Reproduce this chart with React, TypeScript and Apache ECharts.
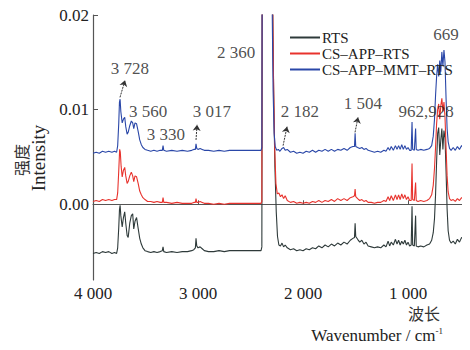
import React, { useEffect, useRef } from "react";
import * as echarts from "echarts";

// wavenumber (cm^-1), intensity
const rtsData: [number, number][] = [
  [4000,-0.0052],[3970,-0.0051],[3940,-0.0052],[3910,-0.0050],[3880,-0.0051],[3850,-0.0050],[3820,-0.0052],[3795,-0.0051],[3775,-0.0052],[3765,-0.0046],[3755,-0.0025],[3748,-0.0006],[3742,-0.0001],[3735,-0.0012],[3722,-0.0024],[3710,-0.0014],[3698,-0.0008],[3688,-0.0020],[3675,-0.0033],[3665,-0.0035],[3650,-0.0020],[3635,-0.0012],[3622,-0.0010],[3612,-0.0026],[3600,-0.0018],[3585,-0.0014],[3572,-0.0024],[3555,-0.0036],[3540,-0.0042],[3525,-0.0046],[3505,-0.0049],[3480,-0.0050],[3450,-0.0051],[3420,-0.0050],[3390,-0.0051],[3360,-0.0050],[3340,-0.0049],[3333,-0.0045],[3326,-0.0050],[3300,-0.0051],[3250,-0.0050],[3200,-0.0051],[3150,-0.0050],[3100,-0.0050],[3060,-0.0049],[3040,-0.0048],[3025,-0.0046],[3019,-0.0036],[3012,-0.0044],[3000,-0.0046],[2980,-0.0045],[2960,-0.0047],[2940,-0.0049],[2900,-0.0050],[2850,-0.0050],[2800,-0.0049],[2750,-0.0050],[2700,-0.0049],[2650,-0.0049],[2600,-0.0049],[2500,-0.0049],[2400,-0.0049],[2392,-0.0045],[2388,0.03],[2300,0.03],[2290,0.022],[2280,0.012],[2268,0.004],[2255,-0.0008],[2243,-0.0034],[2230,-0.0043],[2215,-0.0044],[2200,-0.0041],[2185,-0.0045],[2170,-0.0043],[2150,-0.0046],[2120,-0.0048],[2090,-0.0047],[2060,-0.0049],[2030,-0.0048],[2000,-0.0049],[1970,-0.0047],[1940,-0.0048],[1910,-0.0046],[1880,-0.0047],[1850,-0.0044],[1820,-0.0046],[1790,-0.0043],[1760,-0.0045],[1730,-0.0042],[1700,-0.0044],[1670,-0.0041],[1640,-0.0043],[1610,-0.0040],[1580,-0.0042],[1550,-0.0038],[1525,-0.0036],[1510,-0.0035],[1504,-0.0020],[1498,-0.0034],[1480,-0.0037],[1460,-0.0040],[1440,-0.0038],[1420,-0.0042],[1400,-0.0040],[1380,-0.0044],[1350,-0.0045],[1320,-0.0046],[1290,-0.0045],[1260,-0.0046],[1230,-0.0043],[1210,-0.0045],[1190,-0.0039],[1175,-0.0044],[1160,-0.0040],[1140,-0.0043],[1120,-0.0037],[1105,-0.0042],[1090,-0.0038],[1075,-0.0043],[1060,-0.0039],[1045,-0.0042],[1030,-0.0038],[1015,-0.0043],[1000,-0.0040],[985,-0.0044],[970,-0.0043],[962,-0.0002],[956,-0.0043],[940,-0.0044],[928,-0.0012],[922,-0.0044],[905,-0.0045],[880,-0.0044],[850,-0.0045],[820,-0.0043],[795,-0.0042],[775,-0.0038],[760,-0.0030],[748,-0.0015],[738,0.0010],[728,0.0045],[718,0.0075],[708,0.0081],[698,0.0052],[688,0.0068],[678,0.0080],[668,0.0058],[658,0.0078],[648,0.0070],[638,0.0035],[628,-0.0005],[618,-0.0028],[605,-0.0038],[590,-0.0041],[570,-0.0039],[550,-0.0042],[530,-0.0037],[510,-0.0040],[490,-0.0035],[470,-0.0037],[450,-0.0032],[430,-0.0030],[410,-0.0027]
];

const csAppRtsData: [number, number][] = [
  [4000,0.0003],[3970,0.0004],[3940,0.0003],[3910,0.0005],[3880,0.0004],[3850,0.0005],[3820,0.0004],[3795,0.0005],[3775,0.0005],[3765,0.0012],[3755,0.0035],[3746,0.0058],[3740,0.0055],[3732,0.0040],[3722,0.0029],[3710,0.0036],[3698,0.0039],[3688,0.0030],[3675,0.0022],[3665,0.0024],[3650,0.0030],[3635,0.0034],[3622,0.0030],[3612,0.0024],[3600,0.0030],[3585,0.0029],[3570,0.0022],[3555,0.0014],[3540,0.0010],[3525,0.0007],[3505,0.0005],[3480,0.0003],[3450,0.0003],[3420,0.0002],[3390,0.0003],[3360,0.0002],[3340,0.0002],[3333,0.0007],[3326,0.0002],[3300,0.0002],[3250,0.0001],[3200,0.0002],[3150,0.0001],[3100,0.0001],[3060,0.0001],[3040,0.0002],[3025,0.0002],[3019,0.0006],[3012,0.0002],[3000,0.0002],[2980,0.0003],[2960,0.0002],[2940,0.0001],[2900,0.0001],[2850,0.0000],[2800,0.0001],[2750,0.0000],[2700,0.0001],[2650,0.0001],[2400,0.0001],[2392,0.0003],[2388,0.03],[2300,0.03],[2292,0.024],[2282,0.014],[2270,0.006],[2258,0.0022],[2245,0.0011],[2230,0.0012],[2215,0.0008],[2200,0.0010],[2185,0.0006],[2170,0.0009],[2150,0.0004],[2120,0.0002],[2090,0.0003],[2060,0.0001],[2030,0.0002],[2000,0.0001],[1970,0.0002],[1940,0.0001],[1910,0.0003],[1880,0.0002],[1850,0.0004],[1820,0.0002],[1790,0.0004],[1760,0.0003],[1730,0.0005],[1700,0.0003],[1670,0.0006],[1640,0.0004],[1610,0.0006],[1580,0.0004],[1550,0.0007],[1525,0.0008],[1510,0.0009],[1504,0.0016],[1498,0.0008],[1480,0.0006],[1460,0.0004],[1440,0.0005],[1420,0.0003],[1400,0.0004],[1380,0.0002],[1350,0.0002],[1320,0.0001],[1290,0.0002],[1260,0.0002],[1230,0.0004],[1210,0.0003],[1190,0.0008],[1175,0.0004],[1160,0.0009],[1140,0.0004],[1120,0.0010],[1105,0.0005],[1090,0.0010],[1075,0.0005],[1060,0.0011],[1045,0.0006],[1030,0.0010],[1015,0.0005],[1000,0.0008],[985,0.0004],[970,0.0004],[962,0.0043],[956,0.0005],[940,0.0004],[928,0.0023],[922,0.0004],[905,0.0003],[880,0.0004],[850,0.0003],[820,0.0004],[795,0.0006],[775,0.0010],[760,0.0020],[748,0.0038],[738,0.0060],[728,0.0085],[718,0.0100],[708,0.0106],[698,0.0090],[688,0.0104],[678,0.0112],[668,0.0098],[658,0.0108],[648,0.0092],[638,0.0060],[628,0.0030],[618,0.0013],[605,0.0006],[590,0.0004],[570,0.0005],[550,0.0003],[530,0.0006],[510,0.0004],[490,0.0007],[470,0.0006],[450,0.0009],[430,0.0011],[410,0.0013]
];

const csAppMmtRtsData: [number, number][] = [
  [4000,0.0054],[3970,0.0055],[3940,0.0054],[3910,0.0056],[3880,0.0055],[3850,0.0056],[3820,0.0055],[3795,0.0056],[3775,0.0055],[3765,0.0062],[3755,0.0085],[3748,0.0108],[3742,0.0111],[3735,0.0098],[3722,0.0086],[3710,0.0090],[3698,0.0092],[3688,0.0082],[3675,0.0074],[3665,0.0076],[3650,0.0083],[3635,0.0088],[3622,0.0086],[3612,0.0080],[3600,0.0086],[3585,0.0085],[3570,0.0077],[3555,0.0068],[3540,0.0063],[3525,0.0060],[3505,0.0058],[3480,0.0057],[3450,0.0056],[3420,0.0057],[3390,0.0056],[3360,0.0057],[3340,0.0057],[3333,0.0062],[3326,0.0057],[3300,0.0056],[3250,0.0057],[3200,0.0056],[3150,0.0057],[3100,0.0056],[3060,0.0057],[3040,0.0058],[3025,0.0058],[3019,0.0064],[3012,0.0059],[3000,0.0058],[2980,0.0059],[2960,0.0058],[2940,0.0057],[2900,0.0057],[2850,0.0056],[2800,0.0057],[2750,0.0056],[2700,0.0057],[2650,0.0057],[2400,0.0057],[2392,0.0060],[2388,0.03],[2302,0.03],[2295,0.022],[2285,0.012],[2275,0.0075],[2265,0.0061],[2250,0.0057],[2235,0.0058],[2220,0.0056],[2200,0.0059],[2185,0.0060],[2170,0.0057],[2150,0.0058],[2120,0.0055],[2090,0.0056],[2060,0.0054],[2030,0.0055],[2000,0.0054],[1970,0.0056],[1940,0.0055],[1910,0.0057],[1880,0.0055],[1850,0.0057],[1820,0.0056],[1790,0.0058],[1760,0.0056],[1730,0.0058],[1700,0.0056],[1670,0.0058],[1640,0.0057],[1610,0.0059],[1580,0.0057],[1550,0.0060],[1525,0.0061],[1510,0.0061],[1504,0.0075],[1498,0.0061],[1480,0.0060],[1460,0.0059],[1440,0.0060],[1420,0.0058],[1400,0.0059],[1380,0.0057],[1350,0.0056],[1320,0.0055],[1290,0.0056],[1260,0.0055],[1230,0.0057],[1210,0.0056],[1190,0.0060],[1175,0.0057],[1160,0.0061],[1140,0.0057],[1120,0.0062],[1105,0.0058],[1090,0.0062],[1075,0.0058],[1060,0.0063],[1045,0.0058],[1030,0.0062],[1015,0.0058],[1000,0.0060],[985,0.0057],[970,0.0057],[962,0.0087],[956,0.0058],[940,0.0057],[928,0.0080],[922,0.0058],[905,0.0057],[880,0.0058],[850,0.0057],[820,0.0058],[795,0.0059],[775,0.0062],[760,0.0072],[748,0.0090],[738,0.0115],[728,0.0135],[718,0.0148],[708,0.0135],[698,0.0152],[688,0.0140],[678,0.0161],[668,0.0146],[658,0.0163],[648,0.0150],[638,0.0112],[628,0.0080],[618,0.0066],[605,0.0059],[590,0.0057],[570,0.0060],[550,0.0057],[530,0.0061],[510,0.0058],[490,0.0062],[470,0.0059],[450,0.0061],[430,0.0058],[410,0.0060]
];

const seriesNames = ["RTS", "CS-APP-RTS", "CS-APP-MMT-RTS"];
const legendLabels = ["RTS", "CS–APP–RTS", "CS–APP–MMT–RTS"];
const seriesColors = ["#2e3a3a", "#e8332d", "#2a47a8"];

const xTicks = [4000, 3000, 2000, 1000];
const yTicks = [0, 0.01, 0.02];

// annotation labels: [wavenumber, intensity, text]
const peakLabels: [number, number, string][] = [
  [3648, 0.0143, "3 728"],
  [3476, 0.0098, "3 560"],
  [3305, 0.0074, "3 330"],
  [2867, 0.0098, "3 017"],
  [2638, 0.0160, "2 360"],
  [2029, 0.0098, "2 182"],
  [1429, 0.0106, "1 504"],
  [828, 0.0098, "962,928"],
  [638, 0.0179, "669"],
];

// arrows: [fromX, fromY, toX, toY]
const peakArrows: [number, number, number, number][] = [
  [3743, 0.0113, 3695, 0.0131],
  [3019, 0.0068, 3009, 0.0084],
  [2190, 0.0062, 2152, 0.0082],
  [1505, 0.0076, 1476, 0.0092],
];

const FONT = "Times New Roman, Liberation Serif, DejaVu Serif, serif";
const CJK = "Noto Sans CJK SC, sans-serif";

export default function App() {
  const ref = useRef<HTMLDivElement>(null);
  useEffect(() => {
    if (!ref.current) return;
    const chart = echarts.init(ref.current, null, { renderer: "svg" });
    const datasets = [rtsData, csAppRtsData, csAppMmtRtsData];
    const fmtThousands = (v: number) => {
      const s = String(Math.round(v));
      return s.length > 3 ? s.slice(0, s.length - 3) + " " + s.slice(-3) : s;
    };
    chart.setOption({
      animation: false,
      textStyle: { fontFamily: FONT },
      grid: { left: 93, right: 0, top: 15, bottom: 70 },
      legend: {
        data: seriesNames,
        orient: "vertical",
        left: 285,
        top: 25,
        itemWidth: 30,
        itemHeight: 2,
        itemGap: 1,
        icon: "rect",
        formatter: (name: string) => legendLabels[seriesNames.indexOf(name)],
        textStyle: { fontFamily: FONT, fontSize: 15, color: "#222", lineHeight: 14, padding: [0, 0, 0, -3] },
      },
      xAxis: {
        type: "value",
        inverse: true,
        min: 410,
        max: 4000,
        axisLine: { lineStyle: { color: "#555", width: 1.2 } },
        axisTick: { show: true, inside: true, length: 4, customValues: xTicks, lineStyle: { color: "#555" } },
        axisLabel: {
          customValues: xTicks,
          formatter: (v: number) => fmtThousands(v),
          fontSize: 17,
          color: "#222",
          margin: 5,
          fontFamily: FONT,
        },
        splitLine: { show: false },
      },
      yAxis: {
        type: "value",
        min: -0.008,
        max: 0.02,
        axisLine: { show: true, lineStyle: { color: "#555", width: 1.2 } },
        axisTick: { show: true, inside: true, length: 5, customValues: yTicks, lineStyle: { color: "#555" } },
        axisLabel: {
          customValues: yTicks,
          formatter: (v: number) => v.toFixed(2),
          fontSize: 17,
          color: "#222",
          margin: 4,
          fontFamily: FONT,
        },
        splitLine: { show: false },
      },
      series: [
        ...datasets.map((d, i) => ({
          name: seriesNames[i],
          type: "line",
          data: d,
          symbol: "none",
          clip: true,
          lineStyle: { color: seriesColors[i], width: 1.1 },
          itemStyle: { color: seriesColors[i] },
          silent: true,
          markLine:
            i === 0
              ? {
                  silent: true,
                  symbol: ["none", "arrow"],
                  symbolSize: 6,
                  label: { show: false },
                  lineStyle: { color: "#333", type: [2, 1], width: 1 },
                  data: peakArrows.map((a) => [
                    { coord: [a[0], a[1]] },
                    { coord: [a[2], a[3]] },
                  ]),
                }
              : undefined,
        })),
        {
          name: "labels",
          type: "scatter",
          data: peakLabels.map((p) => [p[0], p[1], p[2]]),
          symbolSize: 0,
          silent: true,
          z: 10,
          label: {
            show: true,
            position: "inside",
            formatter: (p: any) => p.value[2],
            fontSize: 17,
            color: "#222",
            fontFamily: FONT,
          },
        },
      ],
      graphic: [
        {
          type: "text",
          x: 21,
          y: 160,
          rotation: Math.PI / 2,
          style: { text: "强度", fontSize: 16, fontFamily: CJK, fill: "#333", align: "center", verticalAlign: "middle" },
        },
        {
          type: "text",
          x: 38,
          y: 158,
          rotation: Math.PI / 2,
          style: { text: "Intensity", fontSize: 19, fontFamily: FONT, fill: "#222", align: "center", verticalAlign: "middle" },
        },
        {
          type: "text",
          x: 440,
          y: 313,
          style: { text: "波长", fontSize: 16, fontFamily: CJK, fill: "#333", align: "right", verticalAlign: "middle" },
        },
        {
          type: "text",
          x: 443,
          y: 335,
          style: {
            text: "{a|Wavenumber / cm}{s|-1}",
            align: "right",
            verticalAlign: "middle",
            fill: "#222",
            rich: {
              a: { fontSize: 17, fontFamily: FONT, lineHeight: 18, fill: "#222" },
              s: { fontSize: 9, fontFamily: FONT, lineHeight: 10, verticalAlign: "top", fill: "#222" },
            },
          },
        },
      ],
    });
    return () => chart.dispose();
  }, []);
  return <div ref={ref} style={{ width: 470, height: 350, margin: -8 }} />;
}
